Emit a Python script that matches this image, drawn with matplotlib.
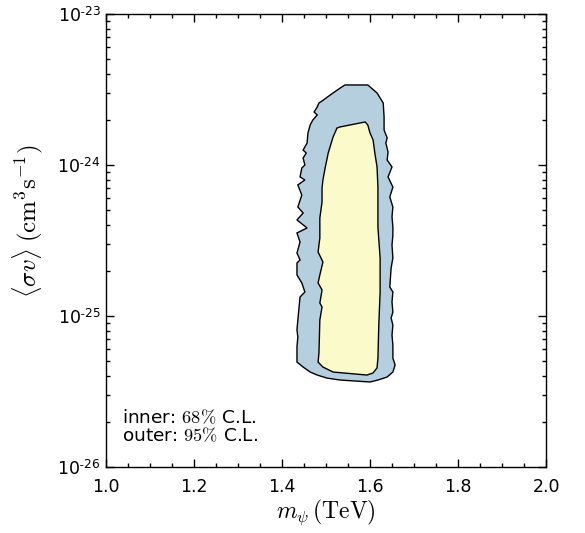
import matplotlib
matplotlib.use("Agg")
import matplotlib.pyplot as plt
import numpy as np
from matplotlib.ticker import FixedLocator, LogLocator, FuncFormatter, MultipleLocator

plt.rcParams['mathtext.fontset'] = 'cm'
plt.rcParams['font.family'] = 'DejaVu Sans'

# Outer (95% C.L.) contour: mass in TeV, log10 of <sigma v> in cm^3 s^-1
outer_m = [1.543, 1.595, 1.616, 1.630, 1.632, 1.632, 1.639, 1.636, 1.641, 1.639,
           1.650, 1.641, 1.652, 1.645, 1.652, 1.650, 1.652, 1.652, 1.650, 1.652,
           1.648, 1.645, 1.652, 1.650, 1.652, 1.648, 1.652, 1.650, 1.652, 1.652,
           1.657, 1.652, 1.639, 1.618, 1.600, 1.532, 1.502, 1.480, 1.464, 1.448,
           1.434, 1.434, 1.436, 1.434, 1.436, 1.441, 1.452, 1.445, 1.434, 1.434,
           1.441, 1.434, 1.441, 1.434, 1.457, 1.434, 1.448, 1.436, 1.445, 1.436,
           1.452, 1.441, 1.445, 1.452, 1.448, 1.455, 1.448, 1.457, 1.459, 1.464,
           1.470, 1.480, 1.473, 1.480, 1.484, 1.491, 1.516, 1.536]
outer_logsv = [-23.470, -23.470, -23.523, -23.589, -23.682, -23.768, -23.821, -23.854, -23.914, -23.967,
               -24.013, -24.079, -24.146, -24.212, -24.278, -24.344, -24.411, -24.464, -24.530, -24.616,
               -24.682, -24.808, -24.841, -24.907, -24.974, -25.013, -25.060, -25.126, -25.192, -25.278,
               -25.325, -25.371, -25.404, -25.424, -25.437, -25.424, -25.411, -25.391, -25.371, -25.338,
               -25.305, -25.205, -25.139, -25.093, -25.026, -24.874, -24.841, -24.781, -24.728, -24.649,
               -24.629, -24.583, -24.510, -24.450, -24.417, -24.364, -24.318, -24.278, -24.199, -24.132,
               -24.099, -24.079, -24.020, -24.000, -23.954, -23.921, -23.901, -23.854, -23.788, -23.735,
               -23.702, -23.669, -23.649, -23.616, -23.589, -23.576, -23.523, -23.483]

# Inner (68% C.L.) contour
inner_m = [1.532, 1.589, 1.595, 1.600, 1.607, 1.611, 1.616, 1.618, 1.618, 1.623,
           1.623, 1.620, 1.618, 1.616, 1.607, 1.593, 1.539, 1.516, 1.493, 1.482,
           1.484, 1.486, 1.491, 1.486, 1.491, 1.482, 1.486, 1.493, 1.482, 1.486,
           1.486, 1.491, 1.491, 1.493, 1.498, 1.505, 1.516, 1.525]
inner_logsv = [-23.748, -23.715, -23.735, -23.788, -23.834, -23.921, -24.013, -24.146, -24.411, -24.616,
               -24.841, -25.060, -25.278, -25.344, -25.377, -25.391, -25.377, -25.371, -25.338, -25.305,
               -25.245, -25.026, -24.940, -24.914, -24.828, -24.781, -24.728, -24.642, -24.576, -24.483,
               -24.351, -24.245, -24.152, -24.099, -24.020, -23.921, -23.815, -23.755]

x_ticks = [1.0, 1.2, 1.4, 1.6, 1.8, 2.0]
y_ticks = [1e-26, 1e-25, 1e-24, 1e-23]
y_tick_labels = [r'10$^{\mathregular{\text{-}26}}$', r'10$^{\mathregular{\text{-}25}}$',
                 r'10$^{\mathregular{\text{-}24}}$', r'10$^{\mathregular{\text{-}23}}$']

outer_color = '#b5cfde'
inner_color = '#fafacb'

fig = plt.figure(figsize=(5.85, 5.33), dpi=100)
ax = fig.add_axes([106/585, 1 - 467/533, 440/585, 453/533])

ax.fill(outer_m, 10.0 ** np.array(outer_logsv), facecolor=outer_color,
        edgecolor='black', linewidth=1.0)
ax.fill(inner_m, 10.0 ** np.array(inner_logsv), facecolor=inner_color,
        edgecolor='black', linewidth=1.0)

ax.set_yscale('log')
ax.set_xlim(1.0, 2.0)
ax.set_ylim(1e-26, 1e-23)

ax.xaxis.set_major_locator(FixedLocator(x_ticks))
ax.xaxis.set_minor_locator(MultipleLocator(0.05))
ax.xaxis.set_major_formatter(FuncFormatter(lambda v, p: f'{v:.1f}'))
ax.yaxis.set_major_locator(FixedLocator(y_ticks))
ax.set_yticklabels(y_tick_labels)
ax.yaxis.set_minor_locator(LogLocator(base=10, subs=np.arange(2, 10)))
ax.yaxis.set_minor_formatter(plt.NullFormatter())

ax.tick_params(which='both', direction='in', top=True, right=True, labelsize=12.5)
ax.tick_params(which='major', length=6, width=1)
ax.tick_params(which='minor', length=3, width=1)
ax.tick_params(axis='x', pad=8)
for s in ax.spines.values():
    s.set_linewidth(1.0)

ax.set_xlabel(r'$m_\psi\,(\mathrm{TeV})$', fontsize=17, labelpad=1)
ax.set_ylabel(r'$\langle\sigma v\rangle\;(\mathrm{cm}^3\mathrm{s}^{-1})$', fontsize=18)
ax.yaxis.set_label_coords(-0.138, 0.543)

ax.text(0.036, 0.048, 'inner: $68\\%$ C.L.\nouter: $95\\%$ C.L.', transform=ax.transAxes,
        fontsize=13.3, ha='left', va='bottom', linespacing=1.0)

fig.savefig('out.png', dpi=100)
